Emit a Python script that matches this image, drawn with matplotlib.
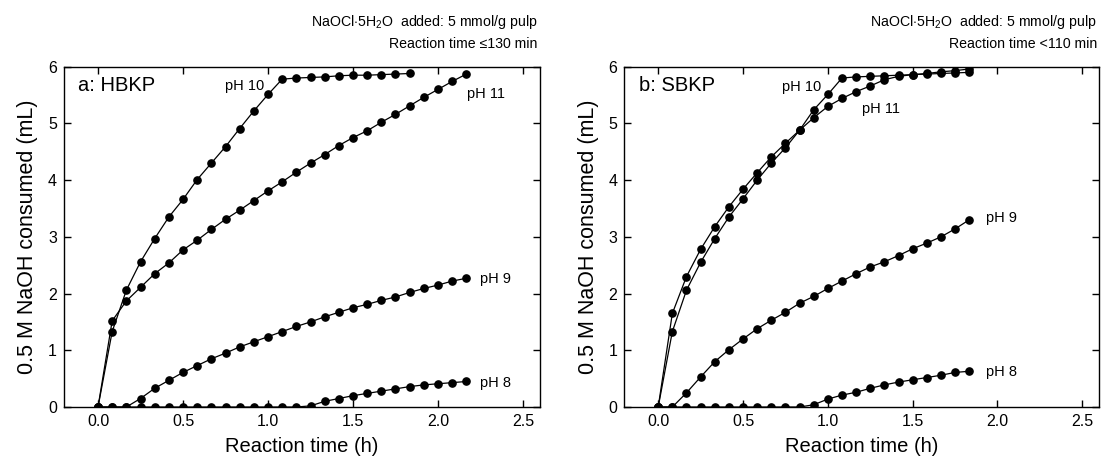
import matplotlib
matplotlib.use("Agg")
import matplotlib.pyplot as plt
import numpy as np

plt.rcParams['font.family'] = ['Liberation Sans', 'DejaVu Sans']
plt.rcParams['mathtext.fontset'] = 'custom'
plt.rcParams['mathtext.rm'] = 'Liberation Sans'
plt.rcParams['mathtext.it'] = 'Liberation Sans:italic'
plt.rcParams['mathtext.default'] = 'rm'

# time step 5 min, expressed in hours
step_min = 5

# ---- HBKP ----
hb_ph10 = [0, 1.33, 2.06, 2.56, 2.97, 3.35, 3.66, 4.01, 4.30, 4.59, 4.91, 5.22,
           5.51, 5.78, 5.80, 5.81, 5.82, 5.84, 5.85, 5.85, 5.86, 5.87, 5.88]
hb_ph11 = [0, 1.52, 1.87, 2.11, 2.35, 2.54, 2.77, 2.94, 3.13, 3.31, 3.47, 3.64,
           3.81, 3.97, 4.14, 4.30, 4.45, 4.61, 4.75, 4.87, 5.02, 5.16, 5.31,
           5.46, 5.60, 5.74, 5.87]
hb_ph9 = [0, 0, 0, 0.15, 0.33, 0.47, 0.61, 0.73, 0.85, 0.95, 1.06, 1.15, 1.24,
          1.33, 1.42, 1.50, 1.59, 1.67, 1.75, 1.81, 1.88, 1.94, 2.02, 2.09,
          2.15, 2.22, 2.27]
hb_ph8 = [0, 0, 0, 0, 0, 0, 0, 0, 0, 0, 0, 0, 0, 0, 0, 0.02, 0.10, 0.15, 0.20,
          0.24, 0.28, 0.32, 0.36, 0.39, 0.41, 0.43, 0.45]

# ---- SBKP ----
sb_ph10 = [0, 1.33, 2.06, 2.55, 2.97, 3.35, 3.67, 4.00, 4.30, 4.57, 4.88, 5.24,
           5.51, 5.80, 5.82, 5.83, 5.84, 5.85, 5.86, 5.87, 5.88, 5.89, 5.90]
sb_ph11 = [0, 1.65, 2.30, 2.78, 3.18, 3.53, 3.84, 4.13, 4.41, 4.65, 4.88, 5.10,
           5.30, 5.44, 5.56, 5.66, 5.77, 5.83, 5.86, 5.88, 5.91, 5.93, 5.96]
sb_ph9 = [0, 0, 0.25, 0.53, 0.80, 1.01, 1.20, 1.38, 1.53, 1.67, 1.83, 1.95,
          2.09, 2.22, 2.35, 2.47, 2.56, 2.67, 2.79, 2.89, 3.00, 3.14, 3.30]
sb_ph8 = [0, 0, 0, 0, 0, 0, 0, 0, 0, 0, 0, 0.04, 0.14, 0.21, 0.26, 0.33, 0.39,
          0.44, 0.48, 0.52, 0.56, 0.61, 0.63]

panels = [
    dict(name="a: HBKP",
         series=[hb_ph10, hb_ph11, hb_ph9, hb_ph8],
         header2="Reaction time \u2264130 min",
         labels=[("pH 10", 0.975, 5.66, 'right'), ("pH 11", 2.17, 5.52, 'left'),
                 ("pH 9", 2.25, 2.26, 'left'), ("pH 8", 2.25, 0.43, 'left')]),
    dict(name="b: SBKP",
         series=[sb_ph10, sb_ph11, sb_ph9, sb_ph8],
         header2="Reaction time <110 min",
         labels=[("pH 10", 0.96, 5.65, 'right'), ("pH 11", 1.20, 5.25, 'left'),
                 ("pH 9", 1.93, 3.33, 'left'), ("pH 8", 1.93, 0.62, 'left')]),
]

fig = plt.figure(figsize=(11.02, 4.73), dpi=100)
axes = [fig.add_axes([0.0581, 0.1395, 0.4319, 0.7195]),
        fig.add_axes([0.5665, 0.1395, 0.4310, 0.7195])]

for ax, p in zip(axes, panels):
    for s in p['series']:
        t = np.arange(len(s)) * step_min / 60.0
        ax.plot(t, s, color='black', lw=0.9, marker='o', markersize=5.2,
                markerfacecolor='black', markeredgecolor='black')
    ax.set_xlim(-0.2, 2.6)
    ax.set_ylim(0, 6)
    ax.set_xticks([0.0, 0.5, 1.0, 1.5, 2.0, 2.5])
    ax.set_xticklabels(['0.0', '0.5', '1.0', '1.5', '2.0', '2.5'])
    ax.set_yticks([0, 1, 2, 3, 4, 5, 6])
    ax.tick_params(direction='in', top=True, right=True, length=5, width=1,
                   labelsize=11.5, pad=5)
    for sp in ax.spines.values():
        sp.set_linewidth(1.0)
    ax.set_xlabel("Reaction time (h)", fontsize=14.5, labelpad=6)
    ax.set_ylabel("0.5 M NaOH consumed (mL)", fontsize=15.5, labelpad=7)
    ax.text(0.03, 0.945, p['name'], transform=ax.transAxes, fontsize=14.5,
            ha='left', va='center')
    for txt, x, y, ha in p['labels']:
        ax.text(x, y, txt, fontsize=10.5, ha=ha, va='center')
    ax.text(0.995, 1.12, r"NaOCl$\cdot$5H$_2$O  added: 5 mmol/g pulp",
            transform=ax.transAxes, ha='right', va='baseline', fontsize=10.2)
    ax.text(0.995, 1.056, p['header2'], transform=ax.transAxes, ha='right',
            va='baseline', fontsize=10.2)

fig.savefig("out.png", dpi=100)
